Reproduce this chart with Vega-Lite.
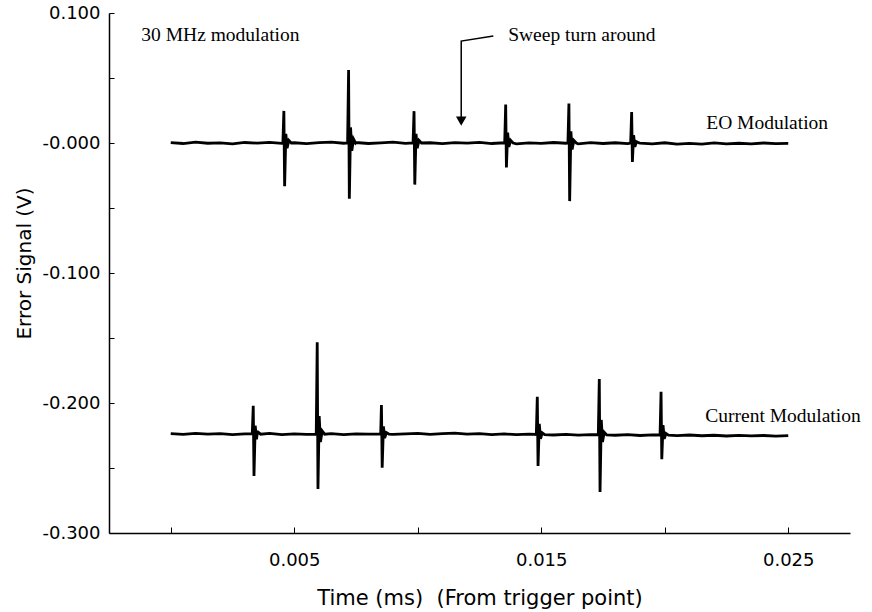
{
  "$schema": "https://vega.github.io/schema/vega-lite/v6.json",
  "width": 741,
  "height": 520,
  "autosize": {"type": "none"},
  "padding": {"left": 109, "top": 13, "right": 22, "bottom": 79},
  "background": "white",
  "config": {
    "view": {"stroke": null},
    "axis": {
      "grid": false,
      "domainColor": "black",
      "domainWidth": 1.5,
      "tickColor": "black",
      "tickWidth": 1,
      "labelColor": "black",
      "titleColor": "black",
      "labelFont": "DejaVu Sans",
      "titleFont": "DejaVu Sans",
      "labelFontSize": 18,
      "titleFontSize": 20,
      "titleFontWeight": "normal"
    }
  },
  "datasets": {
    "traces": [
      {"s":"EO","t":0.0000,"v":0.0003},{"s":"EO","t":0.0005,"v":-0.0004},{"s":"EO","t":0.0010,"v":0.0006},{"s":"EO","t":0.0015,"v":-0.0002},
      {"s":"EO","t":0.0020,"v":0.0001},{"s":"EO","t":0.0025,"v":-0.0006},{"s":"EO","t":0.0030,"v":0.0004},{"s":"EO","t":0.0035,"v":-0.0001},
      {"s":"EO","t":0.0040,"v":0.0005},{"s":"EO","t":0.0045,"v":-0.0003},
      {"s":"EO","t":0.00454,"v":0.0},{"s":"EO","t":0.00458,"v":0.0247},{"s":"EO","t":0.00461,"v":-0.0333},{"s":"EO","t":0.00466,"v":0.007},{"s":"EO","t":0.00471,"v":-0.004},{"s":"EO","t":0.00478,"v":0.002},{"s":"EO","t":0.00488,"v":0.0},
      {"s":"EO","t":0.0050,"v":0.0002},{"s":"EO","t":0.0055,"v":-0.0005},{"s":"EO","t":0.0060,"v":0.0003},{"s":"EO","t":0.0065,"v":0.0007},{"s":"EO","t":0.0070,"v":-0.0002},
      {"s":"EO","t":0.00716,"v":0.0},{"s":"EO","t":0.00720,"v":0.0561},{"s":"EO","t":0.00723,"v":-0.0428},{"s":"EO","t":0.00728,"v":0.012},{"s":"EO","t":0.00733,"v":-0.006},{"s":"EO","t":0.00740,"v":0.003},{"s":"EO","t":0.00748,"v":0.0},
      {"s":"EO","t":0.0075,"v":0.0004},{"s":"EO","t":0.0080,"v":-0.0004},{"s":"EO","t":0.0085,"v":0.0001},{"s":"EO","t":0.0090,"v":0.0006},{"s":"EO","t":0.0095,"v":-0.0003},
      {"s":"EO","t":0.00981,"v":0.0},{"s":"EO","t":0.00985,"v":0.0245},{"s":"EO","t":0.00988,"v":-0.032},{"s":"EO","t":0.00993,"v":0.007},{"s":"EO","t":0.00998,"v":-0.004},{"s":"EO","t":0.01005,"v":0.002},{"s":"EO","t":0.01015,"v":0.0},
      {"s":"EO","t":0.0105,"v":0.0002},{"s":"EO","t":0.0110,"v":-0.0005},{"s":"EO","t":0.0115,"v":0.0003},{"s":"EO","t":0.0120,"v":-0.0001},{"s":"EO","t":0.0125,"v":0.0005},
      {"s":"EO","t":0.0130,"v":-0.0004},{"s":"EO","t":0.0135,"v":0.0002},
      {"s":"EO","t":0.01352,"v":0.0},{"s":"EO","t":0.01356,"v":0.0296},{"s":"EO","t":0.01359,"v":-0.0189},{"s":"EO","t":0.01364,"v":0.008},{"s":"EO","t":0.01369,"v":-0.003},{"s":"EO","t":0.01376,"v":0.002},{"s":"EO","t":0.01386,"v":0.0},
      {"s":"EO","t":0.0140,"v":-0.0006},{"s":"EO","t":0.0145,"v":0.0001},{"s":"EO","t":0.0150,"v":-0.0003},{"s":"EO","t":0.0155,"v":0.0004},{"s":"EO","t":0.0160,"v":-0.0002},
      {"s":"EO","t":0.01608,"v":0.0},{"s":"EO","t":0.01612,"v":0.0304},{"s":"EO","t":0.01615,"v":-0.0447},{"s":"EO","t":0.01620,"v":0.009},{"s":"EO","t":0.01625,"v":-0.005},{"s":"EO","t":0.01632,"v":0.002},{"s":"EO","t":0.01642,"v":0.0},
      {"s":"EO","t":0.0165,"v":-0.0007},{"s":"EO","t":0.0170,"v":0.0003},{"s":"EO","t":0.0175,"v":-0.0004},{"s":"EO","t":0.0180,"v":0.0002},{"s":"EO","t":0.0185,"v":-0.0005},
      {"s":"EO","t":0.01862,"v":0.0},{"s":"EO","t":0.01866,"v":0.0239},{"s":"EO","t":0.01869,"v":-0.0146},{"s":"EO","t":0.01874,"v":0.006},{"s":"EO","t":0.01879,"v":-0.003},{"s":"EO","t":0.01886,"v":0.001},{"s":"EO","t":0.01896,"v":0.0},
      {"s":"EO","t":0.0190,"v":-0.0001},{"s":"EO","t":0.0195,"v":-0.0006},{"s":"EO","t":0.0200,"v":0.0002},{"s":"EO","t":0.0205,"v":-0.0009},{"s":"EO","t":0.0210,"v":-0.0003},
      {"s":"EO","t":0.0215,"v":-0.0008},{"s":"EO","t":0.0220,"v":0.0001},{"s":"EO","t":0.0225,"v":-0.0006},{"s":"EO","t":0.0230,"v":-0.0002},{"s":"EO","t":0.0235,"v":-0.0007},
      {"s":"EO","t":0.0240,"v":0.0},{"s":"EO","t":0.0245,"v":-0.0005},{"s":"EO","t":0.0250,"v":-0.0003},

      {"s":"CM","t":0.0000,"v":-0.2236},{"s":"CM","t":0.0005,"v":-0.2242},{"s":"CM","t":0.0010,"v":-0.2233},{"s":"CM","t":0.0015,"v":-0.2240},
      {"s":"CM","t":0.0020,"v":-0.2235},{"s":"CM","t":0.0025,"v":-0.2243},{"s":"CM","t":0.0030,"v":-0.2237},
      {"s":"CM","t":0.00330,"v":-0.2238},{"s":"CM","t":0.00334,"v":-0.2021},{"s":"CM","t":0.00337,"v":-0.2561},{"s":"CM","t":0.00342,"v":-0.2175},{"s":"CM","t":0.00347,"v":-0.2280},{"s":"CM","t":0.00354,"v":-0.2225},{"s":"CM","t":0.00364,"v":-0.2240},
      {"s":"CM","t":0.0035,"v":-0.2241},{"s":"CM","t":0.0040,"v":-0.2234},{"s":"CM","t":0.0045,"v":-0.2244},{"s":"CM","t":0.0050,"v":-0.2238},{"s":"CM","t":0.0055,"v":-0.2242},
      {"s":"CM","t":0.00589,"v":-0.2240},{"s":"CM","t":0.00593,"v":-0.1533},{"s":"CM","t":0.00596,"v":-0.2661},{"s":"CM","t":0.00601,"v":-0.2100},{"s":"CM","t":0.00606,"v":-0.2300},{"s":"CM","t":0.00613,"v":-0.2215},{"s":"CM","t":0.00623,"v":-0.2240},
      {"s":"CM","t":0.0065,"v":-0.2236},{"s":"CM","t":0.0070,"v":-0.2243},{"s":"CM","t":0.0075,"v":-0.2237},{"s":"CM","t":0.0080,"v":-0.2240},
      {"s":"CM","t":0.00849,"v":-0.2238},{"s":"CM","t":0.00853,"v":-0.2016},{"s":"CM","t":0.00856,"v":-0.2497},{"s":"CM","t":0.00861,"v":-0.2180},{"s":"CM","t":0.00866,"v":-0.2270},{"s":"CM","t":0.00873,"v":-0.2228},{"s":"CM","t":0.00883,"v":-0.2239},
      {"s":"CM","t":0.0085,"v":-0.2235},{"s":"CM","t":0.0090,"v":-0.2242},{"s":"CM","t":0.0095,"v":-0.2238},{"s":"CM","t":0.0100,"v":-0.2233},{"s":"CM","t":0.0105,"v":-0.2241},
      {"s":"CM","t":0.0110,"v":-0.2236},{"s":"CM","t":0.0115,"v":-0.2232},{"s":"CM","t":0.0120,"v":-0.2239},{"s":"CM","t":0.0125,"v":-0.2235},{"s":"CM","t":0.0130,"v":-0.2243},
      {"s":"CM","t":0.0135,"v":-0.2238},{"s":"CM","t":0.0140,"v":-0.2244},{"s":"CM","t":0.0145,"v":-0.2240},
      {"s":"CM","t":0.01480,"v":-0.2242},{"s":"CM","t":0.01484,"v":-0.1952},{"s":"CM","t":0.01487,"v":-0.2484},{"s":"CM","t":0.01492,"v":-0.2160},{"s":"CM","t":0.01497,"v":-0.2275},{"s":"CM","t":0.01504,"v":-0.2230},{"s":"CM","t":0.01514,"v":-0.2244},
      {"s":"CM","t":0.0155,"v":-0.2246},{"s":"CM","t":0.0160,"v":-0.2241},{"s":"CM","t":0.0165,"v":-0.2247},{"s":"CM","t":0.0170,"v":-0.2243},
      {"s":"CM","t":0.01731,"v":-0.2244},{"s":"CM","t":0.01735,"v":-0.1815},{"s":"CM","t":0.01738,"v":-0.2684},{"s":"CM","t":0.01743,"v":-0.2130},{"s":"CM","t":0.01748,"v":-0.2300},{"s":"CM","t":0.01755,"v":-0.2225},{"s":"CM","t":0.01765,"v":-0.2246},
      {"s":"CM","t":0.0180,"v":-0.2248},{"s":"CM","t":0.0185,"v":-0.2244},{"s":"CM","t":0.0190,"v":-0.2250},{"s":"CM","t":0.0195,"v":-0.2245},
      {"s":"CM","t":0.01981,"v":-0.2246},{"s":"CM","t":0.01985,"v":-0.1913},{"s":"CM","t":0.01988,"v":-0.2432},{"s":"CM","t":0.01993,"v":-0.2170},{"s":"CM","t":0.01998,"v":-0.2275},{"s":"CM","t":0.02005,"v":-0.2235},{"s":"CM","t":0.02015,"v":-0.2248},
      {"s":"CM","t":0.0205,"v":-0.2251},{"s":"CM","t":0.0210,"v":-0.2246},{"s":"CM","t":0.0215,"v":-0.2252},{"s":"CM","t":0.0220,"v":-0.2248},{"s":"CM","t":0.0225,"v":-0.2254},
      {"s":"CM","t":0.0230,"v":-0.2249},{"s":"CM","t":0.0235,"v":-0.2253},{"s":"CM","t":0.0240,"v":-0.2250},{"s":"CM","t":0.0245,"v":-0.2255},{"s":"CM","t":0.0250,"v":-0.2251}
    ],
    "arrow": [
      {"o":1,"t":0.01306,"v":0.0823},
      {"o":2,"t":0.01176,"v":0.0784},
      {"o":3,"t":0.01176,"v":0.0198}
    ],
    "head": [
      {"t":0.01176,"v":0.0168}
    ],
    "notes": [
      {"label":"30 MHz modulation","t":-0.00119,"v":0.0830},
      {"label":"Sweep turn around","t":0.01366,"v":0.0830},
      {"label":"EO Modulation","t":0.02168,"v":0.0152},
      {"label":"Current Modulation","t":0.02164,"v":-0.2102}
    ]
  },
  "encoding": {
    "x": {
      "field": "t",
      "type": "quantitative",
      "scale": {"domain": [-0.0025, 0.0275], "nice": false, "zero": false},
      "axis": {
        "title": "Time (ms)\u00a0 (From trigger point)",
        "titleFontSize": 21,
        "values": [0, 0.005, 0.01, 0.015, 0.02, 0.025],
        "labelExpr": "(round(datum.value*1000) % 10 == 5) ? format(datum.value, '.3f') : ''",
        "tickSize": -6,
        "labelPadding": 24,
        "titleY": 71,
        "titleBaseline": "alphabetic"
      }
    },
    "y": {
      "field": "v",
      "type": "quantitative",
      "scale": {"domain": [-0.3, 0.1], "nice": false, "zero": false},
      "axis": {
        "title": "Error Signal (V)",
        "values": [-0.3, -0.25, -0.2, -0.15, -0.1, -0.05, 0, 0.05, 0.1],
        "labelExpr": "(round(datum.value*1000) % 100 == 0) ? (datum.value <= 0 ? '-' + format(abs(datum.value), '.3f') : format(datum.value, '.3f')) : ''",
        "tickSize": -5,
        "labelPadding": 14,
        "titleX": -85,
        "titleY": 250,
        "titleAngle": -90,
        "titleAlign": "center",
        "titleBaseline": "middle"
      }
    }
  },
  "layer": [
    {
      "data": {"name": "traces"},
      "mark": {"type": "line", "color": "black", "strokeWidth": 2.8},
      "encoding": {"detail": {"field": "s"}}
    },
    {
      "data": {"name": "arrow"},
      "mark": {"type": "line", "color": "black", "strokeWidth": 1.5},
      "encoding": {"order": {"field": "o", "type": "quantitative"}}
    },
    {
      "data": {"name": "head"},
      "mark": {"type": "point", "shape": "triangle-down", "filled": true, "color": "black", "size": 110, "opacity": 1}
    },
    {
      "data": {"name": "notes"},
      "mark": {"type": "text", "align": "left", "baseline": "middle", "font": "Liberation Serif", "fontSize": 19.5, "color": "black"},
      "encoding": {"text": {"field": "label"}}
    }
  ]
}
